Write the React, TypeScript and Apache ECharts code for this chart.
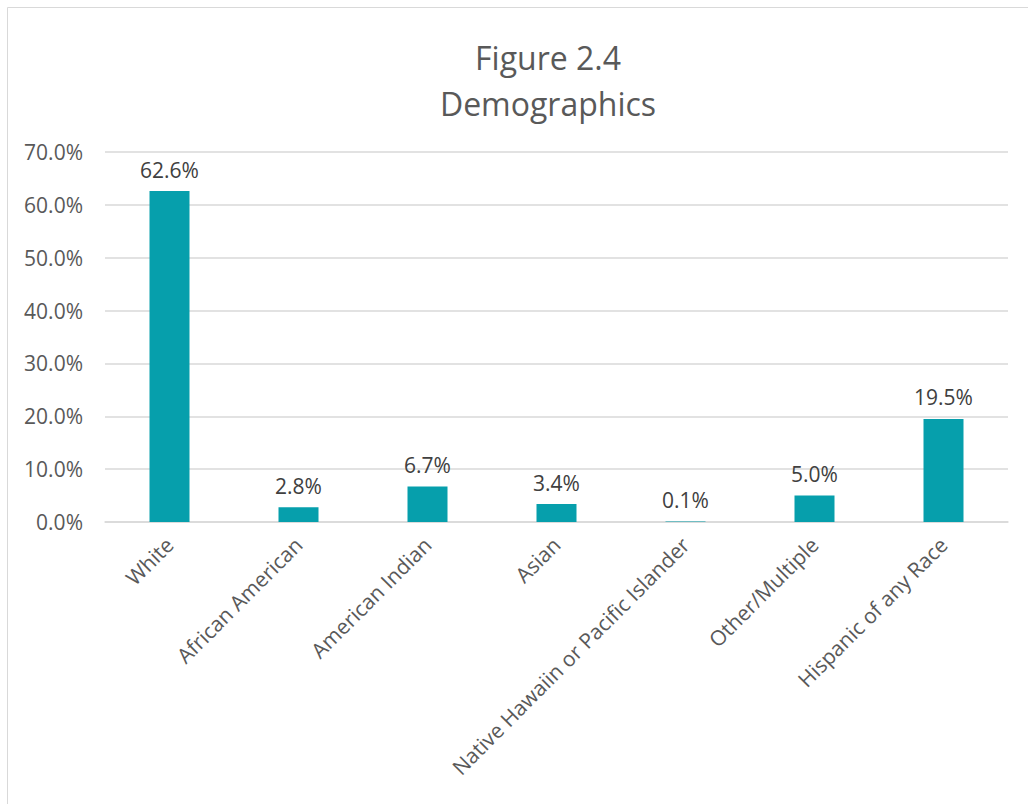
import React, { useEffect, useRef } from "react";
import * as echarts from "echarts";

const categories = [
  "White",
  "African American",
  "American Indian",
  "Asian",
  "Native Hawaiin or Pacific Islander",
  "Other/Multiple",
  "Hispanic of any Race",
];
const values = [62.6, 2.8, 6.7, 3.4, 0.1, 5.0, 19.5];
const titleLines = ["Figure 2.4", "Demographics"];

export default function App() {
  const ref = useRef<HTMLDivElement>(null);
  useEffect(() => {
    document.body.style.margin = "0";
    const chart = echarts.init(ref.current!, null, { renderer: "svg" });
    const font = "'Open Sans', 'Noto Sans', sans-serif";
    chart.setOption({
      animation: false,
      backgroundColor: "#ffffff",
      textStyle: { fontFamily: font },
      title: {
        text: titleLines.join("\n"),
        left: 543,
        top: 29,
        textAlign: "center",
        textStyle: {
          fontFamily: font,
          fontSize: 32,
          fontWeight: "normal",
          color: "#595959",
          lineHeight: 46,
        },
      },
      graphic: [
        {
          type: "rect",
          shape: { x: 7.5, y: 7.5, width: 1040, height: 820 },
          style: { fill: "none", stroke: "#d9d9d9", lineWidth: 1 },
          silent: true,
        },
      ],
      grid: { left: 105, right: 20, top: 152, bottom: 282, containLabel: false },
      xAxis: {
        type: "category",
        data: categories,
        axisLine: { lineStyle: { color: "#d9d9d9", width: 1.5 } },
        axisTick: { show: false },
        axisLabel: {
          rotate: 45,
          interval: 0,
          margin: 19,
          fontSize: 21,
          color: "#595959",
          fontFamily: font,
        },
      },
      yAxis: {
        type: "value",
        min: 0,
        max: 70,
        interval: 10,
        axisLine: { show: false },
        axisTick: { show: false },
        splitLine: { lineStyle: { color: "#d9d9d9", width: 1.5 } },
        axisLabel: {
          formatter: (v: number) => v.toFixed(1) + "%",
          fontSize: 21,
          color: "#595959",
          margin: 22,
          fontFamily: font,
        },
      },
      series: [
        {
          type: "bar",
          data: values,
          barWidth: 40,
          itemStyle: { color: "#069FAC" },
          label: {
            show: true,
            position: "top",
            distance: 11,
            formatter: (p: any) => p.value.toFixed(1) + "%",
            fontSize: 21,
            color: "#404040",
            fontFamily: font,
          },
        },
      ],
    });
    return () => chart.dispose();
  }, []);
  return (
    <div
      ref={ref}
      style={{ position: "fixed", left: 0, top: 0, width: 1028, height: 804 }}
    />
  );
}
